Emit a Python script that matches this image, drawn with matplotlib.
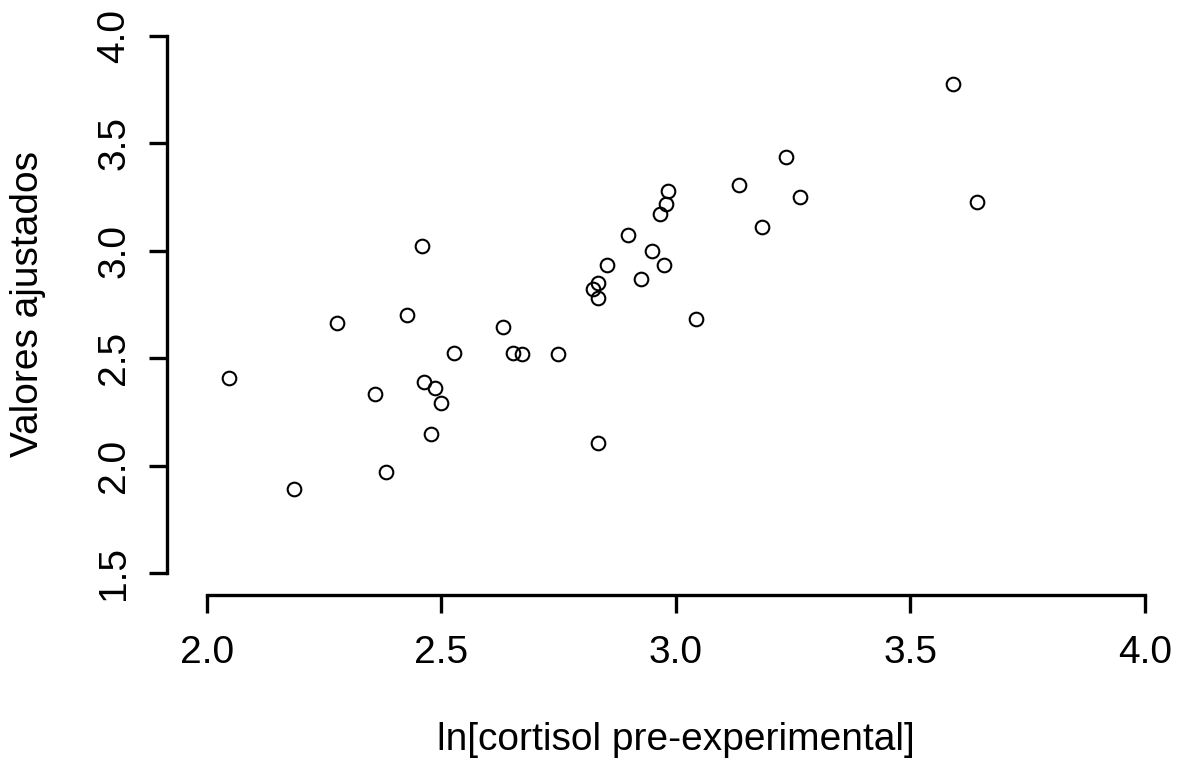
import matplotlib
matplotlib.use("Agg")
import matplotlib.pyplot as plt

# fitted values vs log pre-experimental cortisol
ln_cortisol = [2.047, 2.186, 2.277, 2.358, 2.382, 2.426, 2.458, 2.463, 2.478,
               2.486, 2.499, 2.527, 2.631, 2.652, 2.672, 2.748, 2.823, 2.834,
               2.834, 2.834, 2.853, 2.898, 2.925, 2.949, 2.966, 2.974, 2.979,
               2.984, 3.043, 3.134, 3.183, 3.234, 3.264, 3.591, 3.641]
fitted = [2.408, 1.891, 2.662, 2.333, 1.970, 2.701, 3.022, 2.389, 2.147,
          2.359, 2.291, 2.524, 2.645, 2.524, 2.520, 2.520, 2.822, 2.850,
          2.780, 2.105, 2.934, 3.074, 2.869, 2.997, 3.171, 2.934, 3.218,
          3.278, 2.682, 3.306, 3.113, 3.436, 3.250, 3.777, 3.229]

x_ticks = [2.0, 2.5, 3.0, 3.5, 4.0]
y_ticks = [1.5, 2.0, 2.5, 3.0, 3.5, 4.0]

W, H, DPI = 1182, 763, 100
plt.rcParams["font.family"] = ["Liberation Sans", "DejaVu Sans"]

fig = plt.figure(figsize=(W / DPI, H / DPI), dpi=DPI)
fig.patch.set_facecolor("white")

# plot region in pixels
left, right, top, bottom = 190, 1160, 20, 580
ax = fig.add_axes([left / W, 1 - bottom / H, (right - left) / W, (bottom - top) / H])

# 2.0 -> px 207, 4.0 -> px 1145 ; 4.0 -> px 36, 1.5 -> px 573
xs = (1145 - 207) / 2.0
ys = (573 - 36) / 2.5
ax.set_xlim(2.0 - (207 - left) / xs, 4.0 + (right - 1145) / xs)
ax.set_ylim(1.5 - (bottom - 573) / ys, 4.0 + (36 - top) / ys)

ax.plot(ln_cortisol, fitted, linestyle="none", marker="o", ms=9.8,
        mfc="none", mec="black", mew=1.5)

px2pt = 72 / DPI
for side in ("top", "right"):
    ax.spines[side].set_visible(False)
ax.spines["bottom"].set_position(("outward", (595 - bottom) * px2pt))
ax.spines["left"].set_position(("outward", (left - 167) * px2pt))
ax.spines["bottom"].set_bounds(2.0, 4.0)
ax.spines["left"].set_bounds(1.5, 4.0)
for side in ("bottom", "left"):
    ax.spines[side].set_linewidth(2.4)

ax.set_xticks(x_ticks)
ax.set_yticks(y_ticks)
ax.set_xticklabels([f"{v:.1f}" for v in x_ticks])
ax.set_yticklabels([f"{v:.1f}" for v in y_ticks], rotation=90, va="center")
ax.tick_params(axis="both", length=13, width=2.4, labelsize=28, color="black")
ax.tick_params(axis="x", pad=16)
ax.tick_params(axis="y", pad=12)

fig.text(676 / W, 1 - 750 / H, "ln[cortisol pre-experimental]",
         fontsize=28, ha="center", va="baseline")
fig.text(28 / W, 1 - 304 / H, "Valores ajustados",
         fontsize=28, ha="center", va="center", rotation=90)

fig.savefig("out.png", dpi=DPI, facecolor="white")
